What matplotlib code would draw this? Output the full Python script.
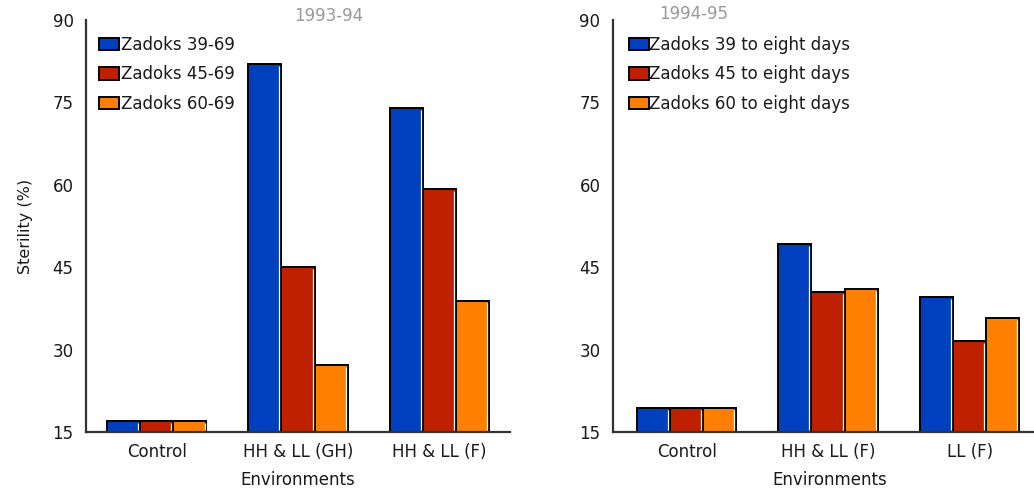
import matplotlib
matplotlib.use("Agg")
import matplotlib.pyplot as plt
import numpy as np

plt.rcParams['font.family'] = ['DejaVu Sans']

# Sterility (%) by environment, two seasons
env_9394 = ["Control", "HH & LL (GH)", "HH & LL (F)"]
z39_69 = [17, 82, 74]
z45_69 = [17, 45, 59.3]
z60_69 = [17, 27.2, 38.9]
labels_9394 = ["Zadoks 39-69", "Zadoks 45-69", "Zadoks 60-69"]

env_9495 = ["Control", "HH & LL (F)", "LL (F)"]
z39_8d = [19.4, 49.2, 39.6]
z45_8d = [19.4, 40.5, 31.6]
z60_8d = [19.4, 41, 35.8]
labels_9495 = ["Zadoks 39 to eight days", "Zadoks 45 to eight days",
               "Zadoks 60 to eight days"]

yticks = [15, 30, 45, 60, 75, 90]
colors = ["#0040BF", "#BF2000", "#FF8000"]

W, H = 1034, 492
FS = 12
fig = plt.figure(figsize=(W / 100, H / 100), dpi=100)


def px_axes(x0, x1, ytop, ybot):
    return fig.add_axes([x0 / W, 1 - ybot / H, (x1 - x0) / W, (ybot - ytop) / H])


def draw_panel(ax, cats, series, labels, xlim, legend_anchor, textpad):
    x = np.arange(len(cats))
    w = 0.235
    base = yticks[0]
    for i, (vals, col, lab) in enumerate(zip(series, colors, labels)):
        heights = np.array(vals) - base
        bars = ax.bar(x + (i - 1) * w, heights, w, bottom=base, color=col,
                      edgecolor="black", linewidth=1.4, label=lab, zorder=2)
        for b in bars:
            xr = b.get_x() + b.get_width() - 0.014
            ax.plot([xr, xr], [base + 0.4, b.get_y() + b.get_height() - 0.4],
                    color="white", lw=0.9, zorder=3, solid_capstyle="butt")
    ax.set_xlim(*xlim)
    ax.set_ylim(15, 90)
    ax.set_yticks(yticks)
    ax.set_xticks(x)
    ax.set_xticklabels(cats)
    ax.tick_params(axis="both", length=0, labelsize=FS, colors="#1a1a1a")
    ax.tick_params(axis="y", pad=9)
    ax.tick_params(axis="x", pad=8)
    for s in ["top", "right"]:
        ax.spines[s].set_visible(False)
    for s in ["left", "bottom"]:
        ax.spines[s].set_linewidth(1.6)
        ax.spines[s].set_color("#333333")
    ax.set_xlabel("Environments", fontsize=FS, color="#1a1a1a", labelpad=7)
    leg = ax.legend(loc="upper left", bbox_to_anchor=legend_anchor, frameon=False,
                    fontsize=FS, handlelength=1.2, handleheight=0.75,
                    handletextpad=textpad, labelspacing=0.7, borderaxespad=0,
                    borderpad=0)
    for t in leg.get_texts():
        t.set_color("#1a1a1a")
    for p in leg.get_patches():
        p.set_linewidth(1.4)


ax1 = px_axes(86, 510, 20, 432)
draw_panel(ax1, env_9394, [z39_69, z45_69, z60_69], labels_9394,
           (-0.5, 2.5), (0.03, 0.962), 0.15)
ax1.set_ylabel("Sterility (%)", fontsize=FS - 0.5, color="#1a1a1a", labelpad=14)

ax2 = px_axes(613, 1046, 20, 432)
draw_panel(ax2, env_9495, [z39_8d, z45_8d, z60_8d], labels_9495,
           (-0.52, 2.54), (0.038, 0.962), 0.0)

fig.text(329 / W, 1 - 16 / H, "1993-94", ha="center", va="center",
         fontsize=FS, color="#999999")
fig.text(694 / W, 1 - 14 / H, "1994-95", ha="center", va="center",
         fontsize=FS, color="#999999")

fig.savefig("out.png", dpi=100)
